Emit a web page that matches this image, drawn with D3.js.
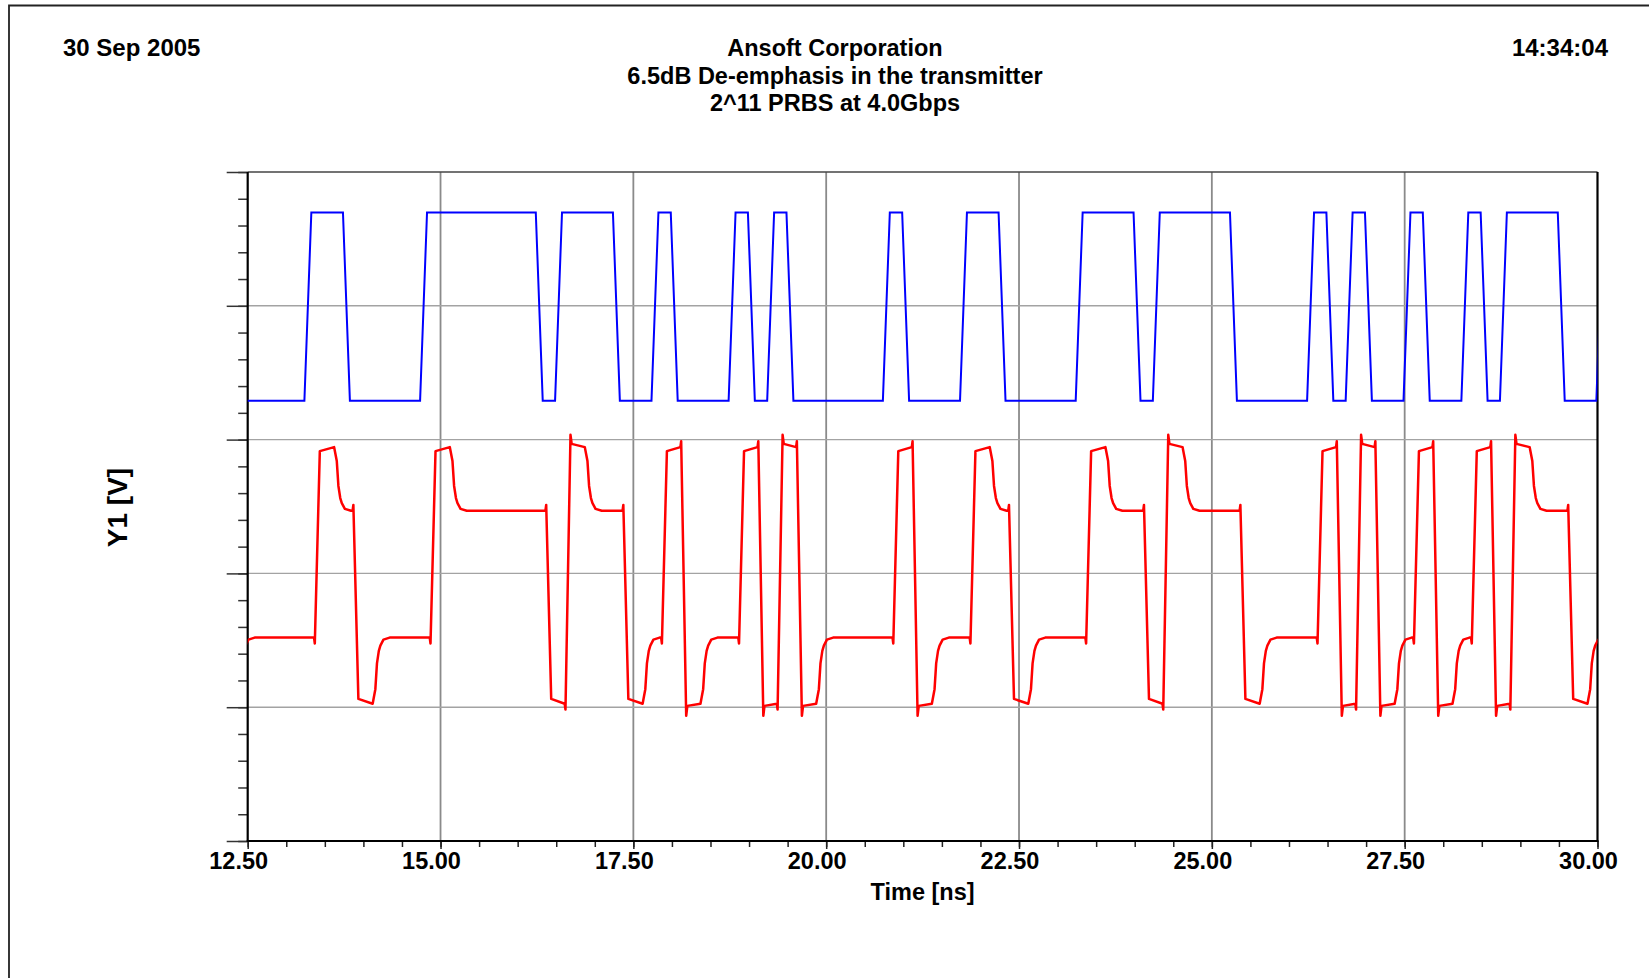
<!DOCTYPE html>
<html>
<head>
<meta charset="utf-8">
<script src="https://cdn.jsdelivr.net/npm/d3@7"></script>
<style>
body { margin: 0; background: #fff; }
text { font-family: "Liberation Sans", Arial, sans-serif; font-weight: bold; fill: #000; }
</style>
</head>
<body>
<svg id="chart" width="1649" height="978"></svg>
<script>
// header / labels
var titleLines = ["Ansoft Corporation", "6.5dB De-emphasis in the transmitter", "2^11 PRBS at 4.0Gbps"];
var dateText = "30 Sep 2005";
var clockText = "14:34:04";
var xLabel = "Time [ns]";
var yLabel = "Y1 [V]";

// axes
var xDomain = [12.5, 30];
var xTickValues = [12.5, 15, 17.5, 20, 22.5, 25, 27.5, 30];
var xMinorStep = 0.5;
var yDomain = [-1, 1.5];
var yTickValues = [-1, -0.5, 0, 0.5, 1, 1.5];
var yMinorStep = 0.1;

// PRBS bits, 4.0Gbps -> 0.25ns per bit, first bit at 11.75ns
var bitStart = 11.75;
var bitPeriod = 0.25;
var bits = [1, 0, 0,
  0,0,0,1,1,0,0,0,0,1,
  1,1,1,1,1,0,1,1,1,0,
  0,1,0,0,0,1,0,1,0,0,
  0,0,0,1,0,0,0,1,1,0,
  0,0,0,1,1,1,0,1,1,1,
  1,0,0,0,0,1,0,1,0,0,
  1,0,0,1,0,1,1,1,0,0,
  1];

// blue (source) levels [low, high] and edge timing relative to the bit boundary (ns)
var blueLevels = [0.645, 1.349];
var blueEdge = [-0.015, 0.075];

// red (de-emphasised output) levels [low, high]
var redSettled = [-0.240, 0.234];
var redPeakStart = [-0.469, 0.457];
var redPeakEnd = [-0.487, 0.472];
var redOvershoot = [-0.532, 0.518];
var redPeakAfterPulse = [-0.495, 0.484];
var redDelay = 0.12;
var redEdge = 0.065;
var redKink = 0.022;
// settling from peak to de-emphasis level: [ns after start, fraction done]
var settleShape = [[0, 0], [0.035, 0.22], [0.056, 0.61], [0.08, 0.8], [0.1, 0.88], [0.14, 0.97], [0.22, 1]];

var svg = d3.select("#chart");
var plot = {left: 247.7, right: 1597.5, top: 172, bottom: 841};

var x = d3.scaleLinear().domain(xDomain).range([plot.left, plot.right]);
var y = d3.scaleLinear().domain(yDomain).range([plot.bottom, plot.top]);

// outer frame
svg.append("path")
  .attr("d", "M9,978 L9,5.5 L1649,5.5")
  .attr("fill", "none")
  .attr("stroke", "#222")
  .attr("stroke-width", 1.8);

// header text
svg.append("text").attr("x", 63).attr("y", 56).style("font-size", "24px").text(dateText);
svg.append("text").attr("x", 1608).attr("y", 56).attr("text-anchor", "end").style("font-size", "24px").text(clockText);
svg.selectAll("text.title")
  .data(titleLines)
  .enter()
    .append("text")
    .attr("class", "title")
    .attr("x", 835)
    .attr("y", function(d, i) { return 56 + i * 27.5; })
    .attr("text-anchor", "middle")
    .style("font-size", "23.5px")
    .text(function(d) { return d; });

// grid
svg.append("g")
  .selectAll("line")
  .data(xTickValues.slice(1, -1))
  .enter()
    .append("line")
    .attr("x1", function(d) { return x(d); })
    .attr("x2", function(d) { return x(d); })
    .attr("y1", plot.top)
    .attr("y2", plot.bottom)
    .attr("stroke", "#8a8a8a")
    .attr("stroke-width", 1.8);

svg.append("g")
  .selectAll("line")
  .data(yTickValues.slice(1, -1))
  .enter()
    .append("line")
    .attr("x1", plot.left)
    .attr("x2", plot.right)
    .attr("y1", function(d) { return y(d); })
    .attr("y2", function(d) { return y(d); })
    .attr("stroke", "#a3a3a3")
    .attr("stroke-width", 1.4);

// top and right border
svg.append("line").attr("x1", plot.left).attr("x2", plot.right).attr("y1", plot.top).attr("y2", plot.top)
  .attr("stroke", "#444").attr("stroke-width", 1.3);
svg.append("line").attr("x1", plot.right).attr("x2", plot.right).attr("y1", plot.top).attr("y2", plot.bottom)
  .attr("stroke", "#000").attr("stroke-width", 2.2);

// x axis
var xMinor = d3.range(xDomain[0], xDomain[1] + 0.001, xMinorStep);
var xAxisMinor = svg.append("g")
  .attr("transform", "translate(0," + plot.bottom + ")")
  .call(d3.axisBottom(x).tickValues(xMinor).tickSize(6).tickFormat(""));
var xAxis = svg.append("g")
  .attr("transform", "translate(0," + plot.bottom + ")")
  .call(d3.axisBottom(x).tickValues(xTickValues).tickSizeInner(8).tickSizeOuter(0).tickPadding(3).tickFormat(d3.format(".2f")));
// the labels sit a little left of their ticks in the original
xAxis.selectAll("text")
  .attr("x", -9.5)
  .style("font-size", "23.5px")
  .style("font-family", "'Liberation Sans', Arial, sans-serif")
  .attr("fill", "#000");
[xAxisMinor, xAxis].forEach(function(g) {
  g.select(".domain").remove();
  g.selectAll("line").attr("stroke", "#222").attr("stroke-width", 1.5);
});
svg.append("line").attr("x1", plot.left - 1).attr("x2", plot.right + 1).attr("y1", plot.bottom).attr("y2", plot.bottom)
  .attr("stroke", "#000").attr("stroke-width", 2.2);

// y axis (no labels in the original)
var yMinor = d3.range(yDomain[0], yDomain[1] + 0.001, yMinorStep);
var yAxisMinor = svg.append("g")
  .attr("transform", "translate(" + plot.left + ",0)")
  .call(d3.axisLeft(y).tickValues(yMinor).tickSize(9.5).tickFormat(""));
var yAxis = svg.append("g")
  .attr("transform", "translate(" + plot.left + ",0)")
  .call(d3.axisLeft(y).tickValues(yTickValues).tickSize(21).tickFormat(""));
[yAxisMinor, yAxis].forEach(function(g) {
  g.select(".domain").remove();
  g.selectAll("line").attr("stroke", "#333").attr("stroke-width", 1.5);
});
svg.append("line").attr("x1", plot.left).attr("x2", plot.left).attr("y1", plot.top).attr("y2", plot.bottom + 1)
  .attr("stroke", "#000").attr("stroke-width", 2.2);

// axis titles
svg.append("text")
  .attr("x", (plot.left + plot.right) / 2)
  .attr("y", 900)
  .attr("text-anchor", "middle")
  .style("font-size", "23.5px")
  .text(xLabel);
svg.append("text")
  .attr("transform", "translate(127," + ((plot.top + plot.bottom) / 2 + 1) + ") rotate(-90)")
  .attr("text-anchor", "middle")
  .style("font-size", "28px")
  .text(yLabel);

// build the traces from the bit stream
var bluePts = [];
bits.forEach(function(b, k) {
  var tb = bitStart + k * bitPeriod;
  if (k === 0) { bluePts.push([tb, blueLevels[b]]); return; }
  if (b !== bits[k - 1]) {
    bluePts.push([tb + blueEdge[0], blueLevels[bits[k - 1]]]);
    bluePts.push([tb + blueEdge[1], blueLevels[b]]);
  }
});
bluePts.push([bitStart + bits.length * bitPeriod, blueLevels[bits[bits.length - 1]]]);

var redPts = [];
var cur = redPeakEnd[bits[0]];
redPts.push([bitStart, cur]);
for (var k = 1; k < bits.length; k++) {
  var tb = bitStart + k * bitPeriod + redDelay;
  var b = bits[k], p = bits[k - 1], pp = k > 1 ? bits[k - 2] : p;
  if (b !== p) {
    var dir = b ? 1 : -1;
    redPts.push([tb - 0.01, cur]);
    redPts.push([tb, cur - dir * redKink]);
    if (p !== pp) {
      // one bit pulse before: overshoot
      redPts.push([tb + redEdge, redOvershoot[b]]);
      redPts.push([tb + redEdge + 0.015, redPeakAfterPulse[b]]);
    } else {
      redPts.push([tb + redEdge, redPeakStart[b]]);
    }
    cur = redPeakEnd[b];
  } else if (p !== pp) {
    var from = cur, to = redSettled[b];
    redPts.push([tb, from]);
    settleShape.forEach(function(s) {
      redPts.push([tb + s[0], from + (to - from) * s[1]]);
    });
    cur = to;
  } else {
    redPts.push([tb, cur]);
  }
}
redPts.push([bitStart + bits.length * bitPeriod + redDelay, cur]);

svg.append("clipPath").attr("id", "clip")
  .append("rect")
  .attr("x", plot.left).attr("y", plot.top)
  .attr("width", plot.right - plot.left).attr("height", plot.bottom - plot.top);

var line = d3.line()
  .x(function(d) { return x(d[0]); })
  .y(function(d) { return y(d[1]); });

var traces = svg.append("g").attr("clip-path", "url(#clip)");
traces.append("path")
  .datum(bluePts)
  .attr("d", line)
  .attr("fill", "none")
  .attr("stroke", "#0000ff")
  .attr("stroke-width", 2);
traces.append("path")
  .datum(redPts)
  .attr("d", line)
  .attr("fill", "none")
  .attr("stroke", "#ff0000")
  .attr("stroke-linejoin", "round")
  .attr("stroke-width", 2.5);
</script>
</body>
</html>
